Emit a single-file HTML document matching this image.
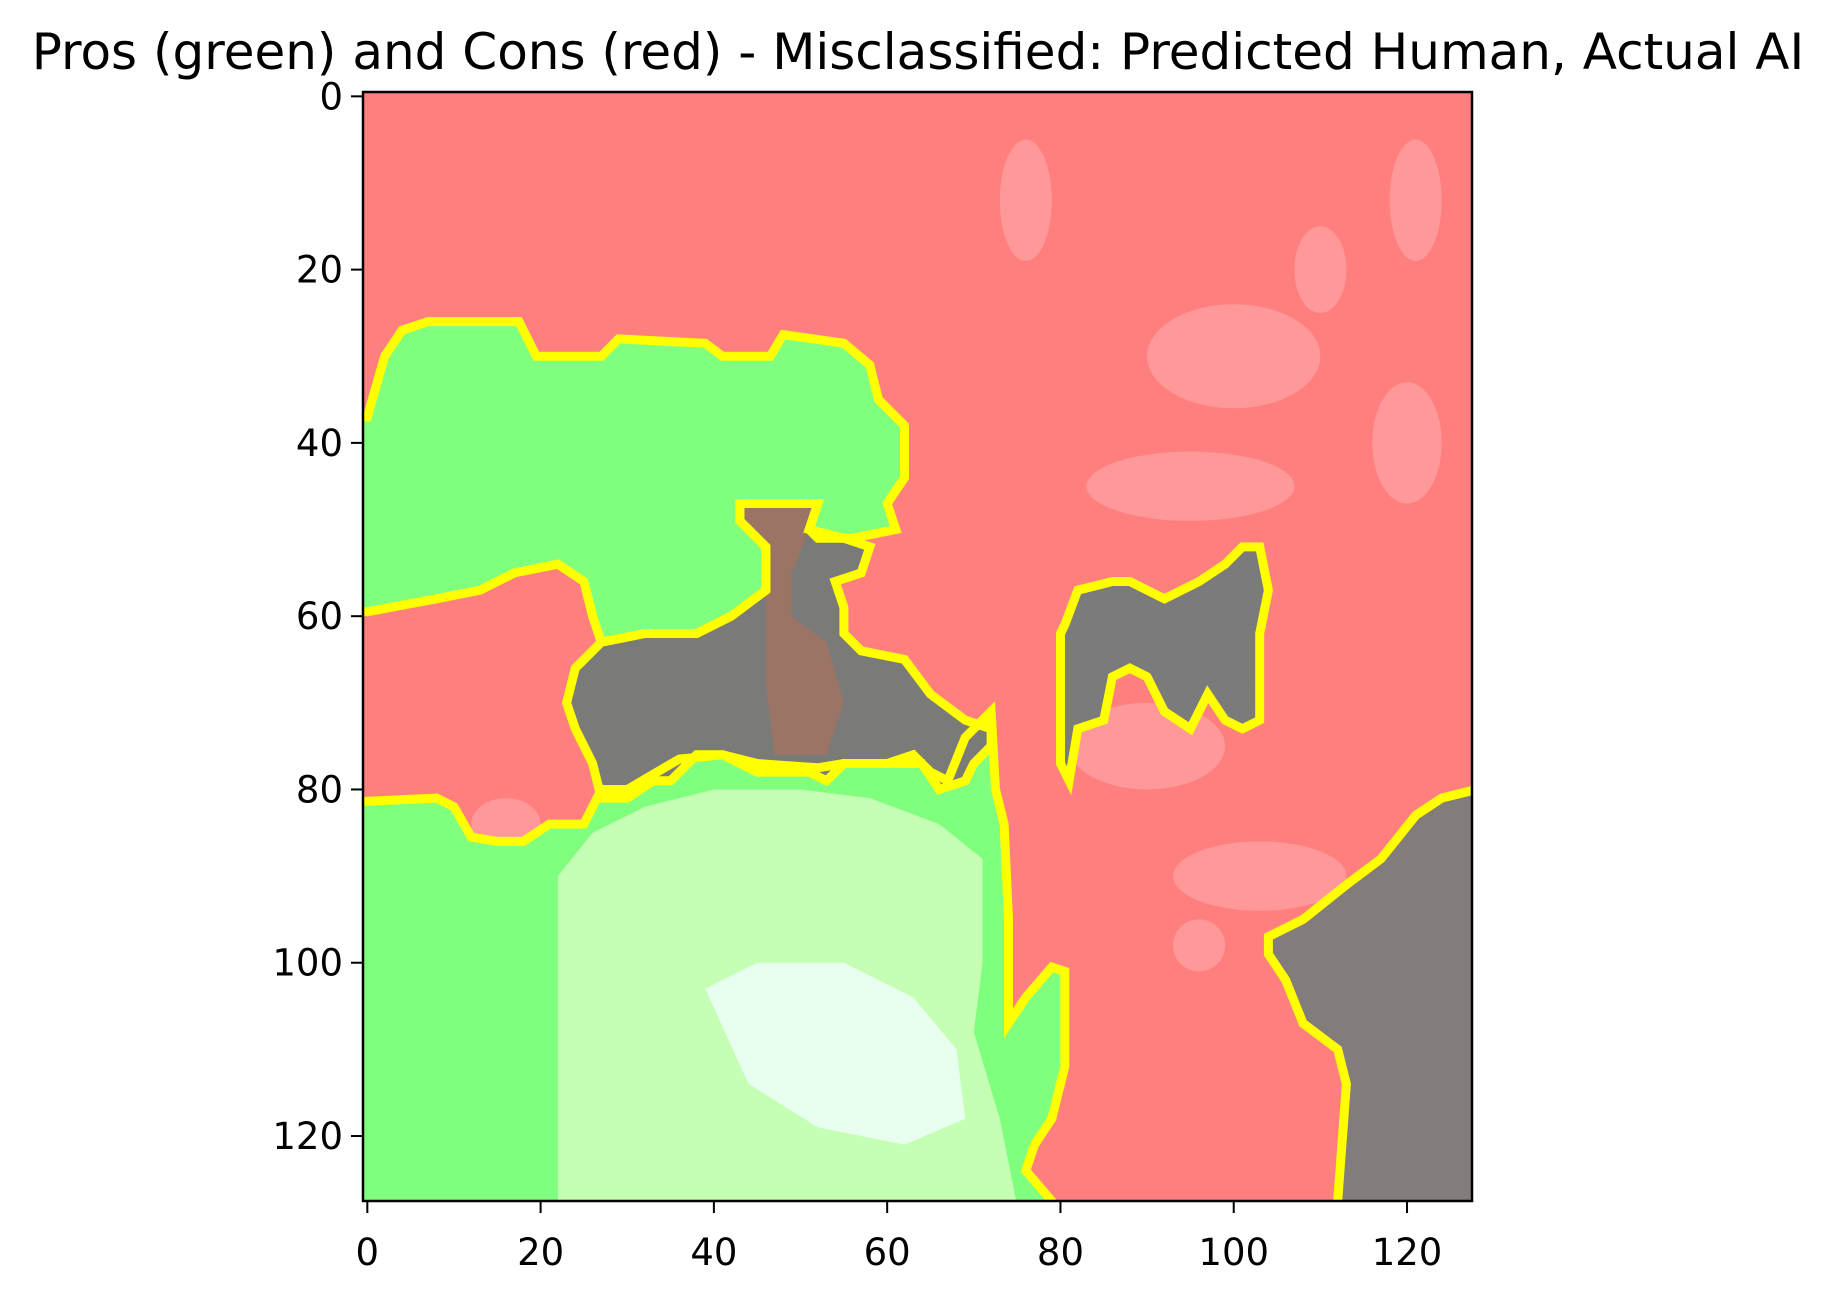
<!DOCTYPE html>
<html><head><meta charset="utf-8"><style>
html,body{margin:0;padding:0;background:#fff;}
svg{display:block;}
text{font-family:"DejaVu Sans","Liberation Sans",sans-serif;fill:#000;}
</style></head><body>
<svg id="chart" width="1833" height="1300" viewBox="0 0 1833 1300" xmlns="http://www.w3.org/2000/svg">
<text x="918" y="69" font-size="50" text-anchor="middle">Pros (green) and Cons (red) - Misclassified: Predicted Human, Actual AI</text>
<defs><clipPath id="imgclip"><rect x="363" y="92" width="1109" height="1109"/></clipPath></defs>
<g id="img" clip-path="url(#imgclip)"></g>
<rect x="363" y="92" width="1109" height="1109" fill="none" stroke="#000" stroke-width="2.5"/>
<g id="axes"></g>
</svg>
<script>
const xTicks = [0, 20, 40, 60, 80, 100, 120];
const yTicks = [0, 20, 40, 60, 80, 100, 120];
const imgSize = 128;
const greenTop = [[-3,37],[0,37],[2,30],[4,27],[7,26],[11,26],[17.5,26],[19.5,30],[27,30],[29,28],[39,28.5],[41,30],[46.5,30],[48,27.5],[55,28.5],[58,31],[59,35],[62,38],[62,44],[60,47],[61,50],[56,51],[52,51],[51,50],[52,47],[43,47],[43,49],[46,52],[46,57],[42,60],[38,62],[32,62],[27,63],[26,60],[25,56],[22,54],[17,55],[13,57],[8,58],[0,59.5],[-3,59.5]];
const grayCenter = [[43,47],[52,47],[51,50],[55,51],[58,52],[57,55],[54,56],[55,59],[55,62],[57,64],[62,65],[65,69],[69,72],[72,73],[72,75],[70,77],[69,79],[66,80],[64,77],[60,77],[55,77],[53,79],[51,78],[45,78],[41,76],[38,76],[35,79],[33,79],[30,81],[27,81],[26,77],[24,73],[23,70],[24,66],[27,63],[32,62],[38,62],[42,60],[46,57],[46,52],[43,49]];
const neck = [[43,47],[52,47],[51,50],[49,55],[49,60],[53,63],[55,70],[53,76],[47,76],[46,68],[46,57],[46,52],[43,49]];
const greenBottom = [[-3,81.5],[8,81],[10,82],[12,85.5],[15,86],[18,86],[21,84],[25,84],[27,80],[30,80],[36,76.5],[41,76],[45,77],[52,77.5],[55,77],[60,77],[63,76],[65,78],[67,79],[69,74],[72,71],[72.5,80],[73.5,84],[74,95],[74,107],[76,104],[79,100.5],[80.5,101],[80.5,112],[79,118],[77,121],[76,124],[79,127.5],[80,131],[-3,131]];
const lightFigure = [[22,128],[22,90],[26,85],[32,82],[40,80],[50,80],[58,81],[66,84],[71,88],[71,100],[70,108],[73,118],[75,128]];
const swirl = [[39,103],[45,100],[55,100],[63,104],[68,110],[69,118],[62,121],[52,119],[44,114]];
const grayRight = [[80.5,61],[82,57],[86,56],[88,56],[92,58],[96,56],[99,54],[101,52],[103,52],[104,57],[103,62],[103,67],[103,72],[101,73],[99,72],[97,69],[95,73],[92,71],[90,67],[88,66],[86,67],[85,72],[82,73],[81,79],[80,77],[80,70],[80,62]];
const grayCorner = [[131,80],[128,80],[124,81],[121,83],[117,88],[113,91],[108,95],[104,97],[104,99],[106,102],[108,107],[112,110],[113,114],[112,127.5],[112,131],[131,131]];
const pinkBlobs = [[100,30,10,6],[95,45,12,4],[120,40,4,7],[76,12,3,7],[121,12,3,7],[110,20,3,5],[90,75,9,5],[103,90,10,4],[16,84,4,3],[96,98,3,3]];

const L=363, T=92, S=1109;
const X = v => L + (v+0.5)*S/imgSize;
const Y = v => T + (v+0.5)*S/imgSize;
const NS='http://www.w3.org/2000/svg';
const img=document.getElementById('img');
const axes=document.getElementById('axes');
function pts(a){return a.map(p=>X(p[0]).toFixed(1)+','+Y(p[1]).toFixed(1)).join(' ');}
function poly(a, fill, stroke, name){
  const p=document.createElementNS(NS,'polygon');
  p.setAttribute('points',pts(a));
  p.setAttribute('fill',fill);
  if(stroke){p.setAttribute('stroke',stroke);p.setAttribute('stroke-width','9');p.setAttribute('stroke-linejoin','miter');}
  
  
  img.appendChild(p);
}
const bg=document.createElementNS(NS,'rect');
bg.setAttribute('x',L);bg.setAttribute('y',T);bg.setAttribute('width',S);bg.setAttribute('height',S);bg.setAttribute('fill','#ff7f7f');


img.appendChild(bg);
pinkBlobs.forEach(b=>{
  const e=document.createElementNS(NS,'ellipse');
  e.setAttribute('cx',X(b[0]));e.setAttribute('cy',Y(b[1]));
  e.setAttribute('rx',b[2]*S/imgSize);e.setAttribute('ry',b[3]*S/imgSize);
  e.setAttribute('fill','#ffc0c0');e.setAttribute('opacity','0.4');
  
  
  img.appendChild(e);
});
poly(greenTop,'#80ff7f',null,'pros-region-top');
poly(greenBottom,'#80ff7f',null,'pros-region-bottom');
poly(lightFigure,'#c4ffb4',null,'light-figure');
poly(swirl,'#e8fff0',null,'light-swirl');
poly(grayCenter,'#7a7a78',null,'neutral-region-center');
poly(neck,'#9a7464',null,'neck-region');
poly(grayRight,'#7b7b7b',null,'neutral-region-right');
poly(grayCorner,'#827c7a',null,'neutral-region-corner');
[greenTop,greenBottom,grayCenter,grayRight,grayCorner].forEach(a=>poly(a,'none','#ffff00','segment-boundary'));

xTicks.forEach(t=>{
  const l=document.createElementNS(NS,'line');
  l.setAttribute('x1',X(t));l.setAttribute('x2',X(t));l.setAttribute('y1',T+S);l.setAttribute('y2',T+S+12);
  l.setAttribute('stroke','#000');l.setAttribute('stroke-width','2');
  
  
  axes.appendChild(l);
  const tx=document.createElementNS(NS,'text');
  tx.setAttribute('x',X(t));tx.setAttribute('y',T+S+64);tx.setAttribute('font-size','37');tx.setAttribute('text-anchor','middle');
  tx.textContent=t;
  
  
  axes.appendChild(tx);
});
yTicks.forEach(t=>{
  const l=document.createElementNS(NS,'line');
  l.setAttribute('x1',L-12);l.setAttribute('x2',L);l.setAttribute('y1',Y(t));l.setAttribute('y2',Y(t));
  l.setAttribute('stroke','#000');l.setAttribute('stroke-width','2');
  
  
  axes.appendChild(l);
  const tx=document.createElementNS(NS,'text');
  tx.setAttribute('x',L-20);tx.setAttribute('y',Y(t)+13);tx.setAttribute('font-size','37');tx.setAttribute('text-anchor','end');
  tx.textContent=t;
  
  
  axes.appendChild(tx);
});
</script>
</body></html>
